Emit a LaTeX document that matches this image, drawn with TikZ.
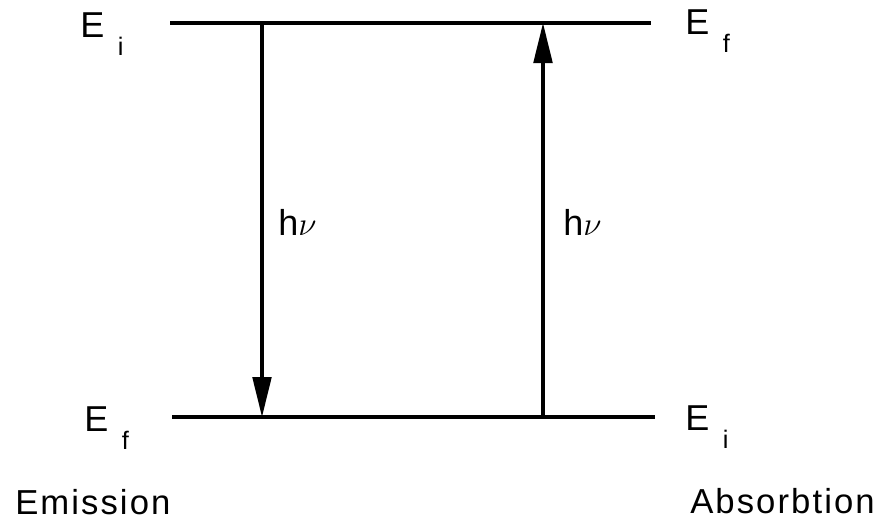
\documentclass[tikz,border=0pt]{standalone}
\usepackage{fontspec}
\setmainfont{Liberation Sans}
\usetikzlibrary{arrows.meta}
\newcommand{\levlab}[1]{E\hspace{0.38em}\raisebox{-13.5pt}{\fontsize{19}{19}\selectfont #1}}
\tikzset{
  level/.style={line width=2.5pt},
  photon/.style={line width=2.4pt,-{Triangle[length=30pt,width=14pt]}},
  lab/.style={inner sep=0pt,anchor=base west,font=\fontsize{27}{27}\selectfont},
  captext/.style={inner sep=0pt,anchor=base west,font=\fontsize{26}{26}\selectfont\addfontfeatures{LetterSpace=6}}
}
\begin{document}
\begin{tikzpicture}[x=0.75pt,y=-0.75pt]
\useasboundingbox (0,0) rectangle (892,521);
% levels
\coordinate (tl) at (170,23);
\coordinate (tr) at (651,23);
\coordinate (bl) at (172,417);
\coordinate (br) at (655,417);
\draw[level] (tl) -- (tr);
\draw[level] (bl) -- (br);
% transition points
\coordinate (et) at (262,23);
\coordinate (eb) at (262,417);
\coordinate (ub) at (543,417);
\coordinate (ut) at (543,23);
\draw[photon] (et) -- (eb);
\draw[photon] (ub) -- (ut);
% labels
\node[lab] (ei) at (80,37) {\levlab{i}};
\node[lab] (ef) at (685,34) {\levlab{f}};
\node[lab] (bf) at (84,431) {\levlab{f}};
\node[lab] (bi) at (685,430) {\levlab{i}};
\node[lab] (hv1) at (278,235) {h$\nu$};
\node[lab] (hv2) at (563,235) {h$\nu$};
\node[captext] (em) at (15,514) {Emission};
\node[captext] (abs) at (690,513) {Absorbtion};
\end{tikzpicture}
\end{document}
